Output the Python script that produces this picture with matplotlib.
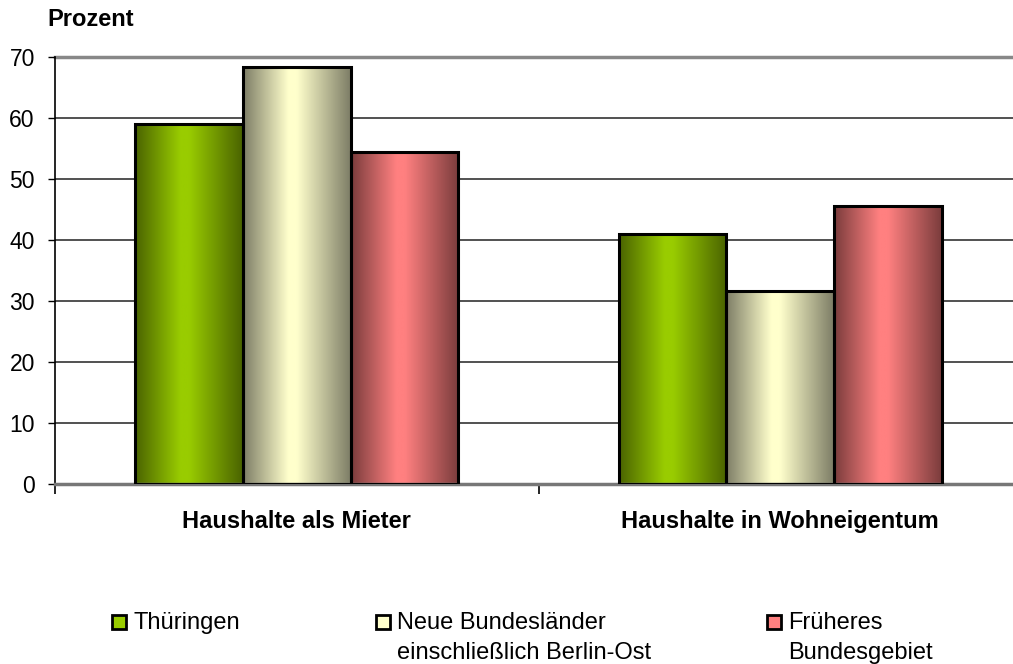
import numpy as np
import matplotlib.pyplot as plt
from matplotlib.patches import Rectangle
from matplotlib.colors import LinearSegmentedColormap

plt.rcParams['font.family'] = ['Liberation Sans', 'DejaVu Sans']

categories = ['Haushalte als Mieter', 'Haushalte in Wohneigentum']
series = [['Thüringen'],
          ['Neue Bundesländer', 'einschließlich Berlin-Ost'],
          ['Früheres', 'Bundesgebiet']]
values = [
    [59.0, 41.0],
    [68.4, 31.6],
    [54.5, 45.5],
]
yticks = [0, 10, 20, 30, 40, 50, 60, 70]

# (edge colour, centre colour) for the horizontal gradient
shades = [
    ('#4a6300', '#99cc00'),
    ('#7d7d66', '#ffffcc'),
    ('#7a3c3c', '#ff8080'),
]

W, H = 1013, 664
fig = plt.figure(figsize=(W / 100, H / 100), dpi=100)
ax = fig.add_axes([55 / W, 1 - 484 / H, 967 / W, 427 / H])

width = 0.223
x = np.arange(len(categories))
grad = np.linspace(0, 1, 256)
for i, (vals, (dark, light)) in enumerate(zip(values, shades)):
    cmap = LinearSegmentedColormap.from_list('g%d' % i, [(0, dark), (0.42, light), (0.5, light), (1, dark)])
    for j, v in enumerate(vals):
        left = x[j] + (i - 1) * width - width / 2
        im = ax.imshow(grad[None, :], cmap=cmap, aspect='auto',
                       extent=(left, left + width, 0, v), zorder=2)
        rect = Rectangle((left, 0), width, v, facecolor='none',
                         edgecolor='black', linewidth=2.2, zorder=3)
        ax.add_patch(rect)
        im.set_clip_path(rect)

ax.set_xlim(-0.5, 1.5)
ax.set_ylim(0, 70)
ax.set_yticks(yticks)
ax.set_yticklabels([str(t) for t in yticks], fontsize=16.5)
for t in yticks[1:-1]:
    ax.axhline(t, color='#222222', linewidth=1.1, zorder=1)
ax.axhline(70, color='#888888', linewidth=2.5, zorder=1, clip_on=False)

ax.set_xticks([-0.5, 0.5, 1.5])
ax.set_xticklabels([])
ax.tick_params(axis='x', length=7, width=1.2, direction='out')
ax.tick_params(axis='y', length=5, width=1.0, direction='out', pad=9.5)
for k, c in enumerate(categories):
    ax.text(x[k], -6.2, c, ha='center', va='center', fontsize=17, fontweight='bold')

for s in ['top', 'right']:
    ax.spines[s].set_visible(False)
ax.spines['left'].set_linewidth(1.2)
ax.spines['bottom'].set_color('#777777')
ax.spines['bottom'].set_linewidth(2.5)

fig.text(47 / W, 1 - 19 / H, 'Prozent', fontsize=17, fontweight='bold',
         ha='left', va='center')

# legend
leg_x = [112, 376, 767]
for (dark, light), lines, lx in zip(shades, series, leg_x):
    fig.patches.append(Rectangle((lx / W, 1 - 629 / H), 14 / W, 14 / H,
                                 facecolor=light, edgecolor='black', linewidth=2,
                                 transform=fig.transFigure))
    for n, line in enumerate(lines):
        fig.text((lx + 21) / W, 1 - (629 + 30 * n) / H, line, fontsize=17,
                 ha='left', va='baseline')

fig.savefig('out.png', dpi=100)
